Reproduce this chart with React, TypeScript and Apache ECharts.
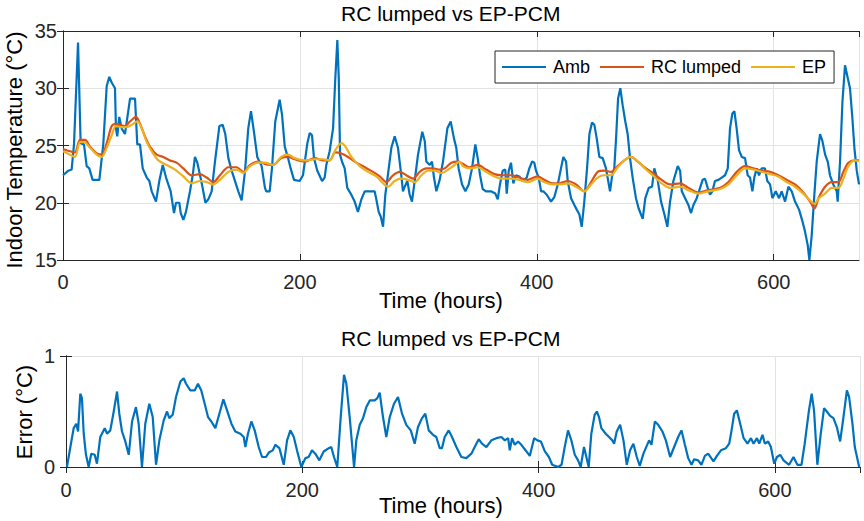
import React, { useEffect, useRef } from "react";
import * as echarts from "echarts";

// [hour, °C] vertices of each trace
const ambient: number[][] = [
  [0, 22.4], [4.5, 22.8], [7.3, 22.9], [9.3, 25.1], [12.7, 34.0], [14.9, 25.2], [17.7, 25.1], [20, 23.2],
  [22.2, 23.0], [25, 22.0], [30.7, 22.0], [34, 25.1], [36.9, 30.2], [39.1, 31.0], [41.1, 30.5], [43.9, 30.0],
  [44.7, 26.5], [45.8, 25.8], [47.5, 27.5], [49.5, 26.5], [52.3, 26.0], [56.6, 29.1], [60.8, 29.1], [62.7, 25.1],
  [65, 25.1], [67.3, 23.0], [70.7, 22.2], [72.9, 21.9], [74.9, 21.0], [78.5, 20.1], [81.3, 21.9], [84.2, 23.3],
  [87, 22.2], [88.9, 21.6], [90.9, 21.0], [93.7, 19.1], [95.4, 20.0], [98.2, 20.0], [99.4, 19.1], [101.6, 18.5],
  [103.8, 19.2], [107.2, 21.0], [109.5, 22.4], [111.4, 24.0], [113.4, 23.5], [115.7, 22.4], [117.9, 21.3],
  [120.2, 20.0], [122.7, 20.3], [125.5, 21.0], [128.3, 23.6], [132, 26.7], [134.8, 26.8], [137, 26.0],
  [139.6, 23.9], [142.4, 22.8], [148, 21.0], [150.8, 20.2], [153.7, 22.8], [156.4, 26.5], [158.7, 28.0],
  [161.2, 26.2], [164, 24.0], [167.7, 23.2], [170.5, 21.3], [171.6, 21.0], [174.5, 21.0], [176.4, 23.0],
  [179.2, 27.1], [182.9, 29.0], [184.9, 27.7], [187.2, 24.9], [190, 23.9], [192.2, 23.0], [195, 22.0],
  [199.8, 21.9], [202.6, 22.4], [206.3, 25.2], [208.3, 26.1], [210.2, 25.9], [211.9, 23.9], [214.7, 22.8],
  [218.7, 21.9], [220.9, 22.2], [222.3, 23.3], [225.1, 24.5], [228, 26.5], [229.9, 30.9], [231.6, 34.2],
  [232.8, 30.9], [233.9, 24.2], [235.5, 23.6], [237.8, 23.0], [240, 21.3], [242.9, 20.8], [246.2, 20.1],
  [249, 19.2], [251.9, 20.3], [254.7, 21.0], [258.9, 21.0], [263.1, 21.0], [264.5, 20.3], [266.5, 19.2],
  [268.2, 18.8], [270.2, 17.9], [272.1, 20.7], [275, 23.0], [277.2, 24.8], [280, 25.8], [282.8, 24.8],
  [285.6, 22.4], [287, 21.0], [288.5, 21.4], [290.7, 21.9], [292.7, 20.7], [294.6, 20.1], [296.9, 21.9],
  [299.7, 24.2], [303.3, 26.2], [305.4, 25.4], [306.7, 23.6], [309.6, 23.3], [311.5, 23.6], [313.2, 22.2],
  [315.2, 21.0], [318, 22.0], [320.8, 23.6], [324.5, 26.5], [327.3, 27.1], [330.1, 25.6], [332, 24.8],
  [334, 23.0], [336.9, 21.6], [339.7, 21.0], [342.5, 21.6], [345.3, 23.0], [348.1, 25.1], [350.1, 23.9],
  [352.1, 22.4], [354.3, 21.2], [357.1, 21.0], [361.3, 21.0], [365, 20.8], [367, 20.3], [368.9, 21.6],
  [371.2, 22.8], [373.4, 22.9], [374.6, 20.8], [376.3, 22.8], [378.2, 23.5], [380.2, 21.7], [382.4, 22.4],
  [385.2, 22.3], [388.1, 21.9], [391.5, 22.2], [393.7, 23.0], [396, 23.6], [397.9, 23.5], [399.3, 22.8],
  [401.6, 22.2], [403.6, 21.0], [405.5, 21.0], [408.4, 20.7], [412, 20.1], [414.8, 20.5], [417.7, 21.6],
  [420.4, 23.0], [422.4, 24.0], [424.7, 23.6], [426.1, 21.9], [428.9, 20.4], [431.7, 19.8], [433.7, 19.4],
  [435.9, 19.0], [437.9, 17.9], [440.1, 20.1], [442.4, 23.0], [444.4, 26.0], [446.6, 27.0], [448.6, 26.8],
  [450.6, 25.6], [452.8, 24.0], [455.6, 23.9], [458.4, 23.0], [461.8, 21.0], [463.5, 22.3], [465.4, 23.0],
  [466.9, 25.6], [468.6, 29.1], [470.5, 30.0], [472.5, 28.5], [474.7, 27.1], [476.7, 26.0], [478.7, 23.9],
  [480.9, 22.2], [483.7, 20.4], [486, 19.5], [489.4, 18.6], [491.6, 20.4], [494.5, 21.3], [497.3, 21.4],
  [499.2, 23.0], [502, 22.0], [504.9, 20.1], [507.7, 19.0], [510.2, 17.9], [512.5, 20.1], [515.3, 21.9],
  [519, 23.2], [521, 22.8], [522.4, 21.0], [525.2, 20.4], [528, 19.8], [530.2, 19.1], [532.2, 19.8],
  [535, 20.4], [540, 22.0], [542, 22.1], [544.3, 21.3], [546.2, 20.7], [548.2, 21.0], [550.4, 21.9],
  [553.3, 22.0], [556.1, 22.2], [558.9, 22.4], [561.2, 23.0], [563.1, 26.5], [565.1, 27.8], [566.8, 28.0],
  [568.7, 26.5], [570.7, 24.6], [573, 24.0], [575.8, 23.9], [578, 22.4], [580, 22.2], [582, 21.0],
  [583.6, 22.2], [585.6, 23.0], [587.6, 22.4], [589.8, 23.0], [592.6, 23.0], [594.6, 21.9], [596.9, 21.6],
  [598.9, 20.4], [601.7, 21.0], [604.5, 20.4], [606.7, 21.0], [609.6, 20.1], [612.4, 21.4], [615.2, 21.0],
  [618, 20.1], [621.4, 19.4], [624.2, 18.4], [626.4, 17.5], [628.7, 16.3], [630.1, 15.0], [632.1, 17.2],
  [634.3, 20.7], [636.3, 23.6], [639.1, 26.0], [641.1, 25.4], [643.4, 24.2], [645.6, 23.6], [647.5, 22.4],
  [650.3, 21.6], [653.2, 21.0], [654, 20.1], [656, 23.6], [658, 28.8], [660.2, 32.0], [662.5, 30.9],
  [664.4, 30.0], [666.4, 27.4], [668.1, 24.8], [670.1, 22.8], [672, 21.6],
];

const rcLumped: number[][] = [
  [0, 24.7], [5.9, 24.5], [10.1, 24.4], [14.4, 25.5], [18.6, 25.5], [22.8, 24.9], [28.5, 24.3], [32.7, 24.2],
  [36.9, 25.2], [41.1, 26.7], [44.7, 26.9], [48.1, 26.8], [52.3, 26.7], [56.6, 27.1], [61.6, 27.5], [65, 26.9],
  [69.2, 25.8], [73.4, 24.9], [79.1, 24.2], [84.7, 24.0], [90.3, 23.7], [95.9, 23.5], [101.6, 23.0],
  [108.6, 22.4], [115.7, 22.5], [121.3, 22.2], [126.9, 21.8], [132.5, 22.4], [139.6, 23.1], [146.6, 23.1],
  [152.2, 22.7], [157.9, 23.3], [164.9, 23.6], [170.3, 23.4], [177.3, 23.3], [184.3, 23.9], [190, 24.0],
  [195.6, 23.8], [204.1, 23.6], [212.5, 23.9], [219.5, 23.7], [225.1, 23.7], [229.9, 24.4], [235, 24.3],
  [240.6, 24.0], [247.7, 23.5], [254.7, 23.1], [261.7, 22.7], [267.4, 22.3], [273, 21.8], [278.6, 22.4],
  [284.3, 22.7], [289.8, 22.4], [295.5, 22.1], [301.1, 22.7], [306.7, 23.0], [312.4, 23.0], [318, 22.9],
  [322.2, 23.0], [327.8, 23.5], [333.5, 23.6], [337.5, 23.4], [343.1, 23.1], [350.1, 23.3], [357.1, 22.9],
  [364.2, 22.5], [371.2, 22.4], [378.2, 22.4], [385.2, 22.2], [392.3, 22.0], [400.7, 22.3], [406.3, 22.0],
  [413.4, 21.7], [419, 21.7], [426.1, 21.9], [433.1, 21.6], [440.1, 21.0], [445.8, 21.8], [451.4, 22.7],
  [457, 22.8], [462.7, 22.7], [468.3, 23.2], [473.9, 23.7], [479.5, 24.0], [485.2, 23.6], [492.2, 23.0],
  [497.9, 22.6], [505.4, 22.0], [512.5, 21.6], [521, 21.7], [528, 21.3], [536.5, 20.9], [544.9, 21.1],
  [554.8, 21.3], [561.8, 21.8], [568.8, 22.7], [575.8, 23.2], [582.8, 23.0], [589.8, 22.8], [596.9, 22.7],
  [603.9, 22.4], [611, 22.0], [618, 21.6], [625, 20.9], [630.7, 20.1], [634.3, 19.5], [638.2, 20.5],
  [643.4, 21.4], [649, 21.8], [654.6, 21.8], [658.8, 22.7], [663, 23.5], [668.6, 23.7], [672, 23.7],
];

const epPcm: number[][] = [
  [0, 24.5], [5.9, 24.2], [10.1, 24.0], [14.4, 25.3], [17.7, 25.3], [22.8, 24.8], [28.5, 24.2], [32.7, 24.0],
  [36.9, 24.8], [41.1, 25.9], [44.7, 26.7], [49.5, 26.6], [53.8, 26.6], [58, 26.8], [62.7, 27.1], [66.4, 26.5],
  [70.7, 25.3], [74.9, 24.5], [80.5, 23.7], [87.5, 23.3], [94.6, 22.9], [101.6, 22.3], [108.6, 21.7],
  [115.7, 21.9], [121.3, 21.8], [126.9, 21.6], [132.5, 22.0], [139.6, 22.7], [146.6, 22.9], [152.2, 22.6],
  [157.9, 23.2], [164.9, 23.5], [170.3, 23.5], [177.3, 23.3], [184.3, 24.0], [190, 24.2], [195.6, 23.9],
  [204.1, 23.7], [212.5, 23.8], [219.5, 23.8], [225.1, 23.7], [229.9, 24.6], [235, 25.2], [238.4, 24.9],
  [243.5, 24.0], [250.5, 23.2], [257.6, 22.7], [264.6, 22.3], [270.2, 21.7], [274.4, 21.4], [280, 21.9],
  [285.6, 22.1], [291.3, 22.0], [296.9, 21.8], [302.5, 22.4], [308.2, 22.8], [313.8, 22.8], [319.4, 22.6],
  [322.2, 22.7], [329.3, 23.2], [334.9, 23.6], [337.5, 23.2], [343.1, 23.0], [350.1, 23.1], [357.1, 22.7],
  [364.2, 22.3], [371.2, 22.1], [378.2, 22.1], [385.2, 22.0], [392.3, 21.8], [400.7, 22.1], [406.3, 21.8],
  [413.4, 21.6], [419, 21.6], [426.1, 21.7], [433.1, 21.4], [440.1, 21.0], [445.8, 21.6], [451.4, 22.2],
  [457, 22.4], [462.7, 22.4], [468.3, 23.1], [473.9, 23.7], [479.5, 24.0], [485.2, 23.6], [492.2, 22.9],
  [497.9, 22.4], [505.4, 21.7], [512.5, 21.3], [521, 21.4], [528, 21.1], [536.5, 20.8], [544.9, 21.0],
  [554.8, 21.2], [561.8, 21.6], [568.8, 22.4], [575.8, 23.0], [582.8, 22.9], [589.8, 22.7], [596.9, 22.5],
  [603.9, 22.3], [611, 21.8], [618, 21.4], [625, 20.8], [630.7, 20.2], [634.3, 19.9], [638.2, 20.4],
  [643.4, 20.8], [649, 21.3], [654.6, 21.3], [658.8, 22.1], [663, 23.2], [668.6, 23.7], [672, 23.6],
];

const absError: number[][] = [
  [0.8, 0.0], [3.7, 0.18], [6.5, 0.35], [8.7, 0.39], [10.2, 0.32], [12.1, 0.66], [13.5, 0.62], [15, 0.30],
  [16.9, 0.11], [19.2, 0.0], [21.4, 0.12], [24.3, 0.11], [26.2, 0.03], [29, 0.27], [32.8, 0.35], [34.7, 0.30],
  [37.5, 0.33], [40.4, 0.50], [43.2, 0.68], [45.1, 0.48], [47.4, 0.32], [50.2, 0.23], [53.1, 0.11],
  [55.9, 0.41], [59.2, 0.54], [61.5, 0.39], [64.3, 0.0], [67.1, 0.39], [70.5, 0.57], [73.4, 0.45],
  [76.2, 0.02], [79, 0.24], [82.7, 0.42], [85.5, 0.50], [87.4, 0.44], [90.3, 0.47], [93.1, 0.63],
  [96.8, 0.77], [99.6, 0.80], [101.6, 0.75], [105.2, 0.69], [108.9, 0.69], [111.7, 0.75], [114.5, 0.69],
  [117.4, 0.57], [120.2, 0.45], [123, 0.41], [126.4, 0.35], [129.8, 0.48], [133.2, 0.61], [136.3, 0.51],
  [140, 0.39], [143.3, 0.32], [147.6, 0.30], [150.4, 0.27], [151.8, 0.18], [154, 0.30], [156.9, 0.41],
  [159.7, 0.33], [163.1, 0.18], [165.9, 0.09], [169.3, 0.09], [171.6, 0.13], [175, 0.15], [177.2, 0.20],
  [180.6, 0.17], [184.3, 0.02], [187.1, 0.24], [189.9, 0.33], [192.8, 0.27], [195.5, 0.15], [199.2, 0.0],
  [202.6, 0.08], [205.4, 0.09], [208.2, 0.15], [211, 0.12], [214.4, 0.06], [218.1, 0.14], [222.4, 0.17],
  [224.5, 0.18], [226.8, 0.09], [229.6, 0.0], [232.5, 0.45], [235.3, 0.83], [237.3, 0.75], [240.1, 0.45],
  [243.8, 0.0], [245.7, 0.24], [248.6, 0.38], [251.4, 0.44], [254.2, 0.54], [257.1, 0.60], [261.3, 0.60],
  [263.5, 0.62], [265.5, 0.67], [268.3, 0.45], [271.1, 0.27], [274, 0.45], [277.6, 0.57], [281, 0.63],
  [284.4, 0.48], [288, 0.38], [291.8, 0.33], [295.1, 0.21], [297.9, 0.36], [301.3, 0.44], [304.1, 0.48],
  [307, 0.33], [310.6, 0.29], [313.4, 0.27], [316.3, 0.17], [318.2, 0.17], [320.5, 0.27], [323.9, 0.33],
  [326.7, 0.27], [330.4, 0.18], [334.6, 0.09], [338.8, 0.08], [343.1, 0.12], [345.9, 0.18], [349.3, 0.25],
  [352.1, 0.21], [355.8, 0.18], [360, 0.24], [364.3, 0.26], [368.5, 0.27], [371.4, 0.24], [374.2, 0.26],
  [375.6, 0.15], [377.5, 0.26], [379.8, 0.20], [382.6, 0.23], [385.4, 0.20], [389.7, 0.14], [392.5, 0.10],
  [396.2, 0.26], [399, 0.24], [401.9, 0.23], [405.3, 0.14], [408.7, 0.09], [411.5, 0.02], [416.5, 0.0],
  [419.4, 0.02], [422.1, 0.18], [424.9, 0.33], [427.7, 0.24], [430.6, 0.11], [433.4, 0.06], [435.6, 0.0],
  [438.4, 0.18], [442.4, 0.0], [444.6, 0.30], [447.4, 0.47], [449.3, 0.50], [451.1, 0.45], [453.1, 0.35],
  [456.8, 0.30], [459.6, 0.27], [462.4, 0.24], [463.9, 0.21], [466.1, 0.32], [469, 0.38], [471.8, 0.24],
  [474.6, 0.02], [477.4, 0.15], [480.2, 0.21], [483.1, 0.09], [485.6, 0.01], [488.7, 0.12], [493.5, 0.24],
  [495.5, 0.20], [498.4, 0.41], [501.2, 0.38], [504.8, 0.32], [507.7, 0.24], [511.3, 0.09], [514.7, 0.18],
  [518.1, 0.27], [520.9, 0.33], [523.8, 0.20], [526.6, 0.08], [529.4, 0.02], [531.6, 0.07], [535, 0.06],
  [537.8, 0.02], [540.7, 0.10], [543.5, 0.12], [548, 0.05], [550.9, 0.10], [554.3, 0.15], [558.5, 0.17],
  [561.3, 0.21], [563.3, 0.33], [565.5, 0.48], [567.8, 0.51], [570.6, 0.39], [573.5, 0.26], [576.8, 0.21],
  [579.7, 0.26], [581.9, 0.21], [584.8, 0.26], [586.7, 0.21], [589.5, 0.29], [591.5, 0.21], [594.3, 0.23],
  [596.6, 0.18], [599.4, 0.03], [601.7, 0.09], [604.5, 0.11], [607.3, 0.06], [612, 0.02], [615.7, 0.09],
  [619, 0.02], [622.5, 0.02], [625.2, 0.21], [628.8, 0.51], [631.1, 0.66], [633.1, 0.51], [635.9, 0.02],
  [638.8, 0.30], [641.6, 0.53], [643.9, 0.50], [646.7, 0.46], [649.5, 0.44], [652.4, 0.36], [655.2, 0.23],
  [658, 0.45], [660.9, 0.69], [662.8, 0.63], [665.6, 0.39], [667.6, 0.18], [671.3, 0.0],
];

const legendNames = ["Amb", "RC lumped", "EP"];
const traceColors = ["#0072BD", "#D95319", "#EDB120"];
const chartTitle = "RC lumped vs EP-PCM";
const timeLabel = "Time (hours)";
const tempLabel = "Indoor Temperature (°C)";
const errLabel = "Error (°C)";

const FONT = "'Liberation Sans', Arial, Helvetica, sans-serif";
const INK = "#262626";
const GRIDC = "#e3e3e3";
const LINE_W = 2.2;

function boxAxes(gridIndex: number, xMax: number, yMin: number, yMax: number, yInt: number, xLabelMargin: number, yLabelMargin: number) {
  const tick = { show: true, inside: true, length: 6, lineStyle: { color: INK, width: 1 } };
  const line = { show: true, lineStyle: { color: INK, width: 1 } };
  const label = { color: INK, fontSize: 20, fontFamily: FONT };
  const xs = [
    {
      type: "value", gridIndex, min: 0, max: xMax, interval: 200, position: "bottom",
      axisLine: line, axisTick: tick,
      axisLabel: { ...label, margin: xLabelMargin, showMaxLabel: false },
      splitLine: { show: true, lineStyle: { color: GRIDC, width: 1 } },
    },
    {
      type: "value", gridIndex, min: 0, max: xMax, interval: 200, position: "top",
      axisLine: line, axisTick: tick, axisLabel: { show: false }, splitLine: { show: false },
    },
  ];
  const ys = [
    {
      type: "value", gridIndex, min: yMin, max: yMax, interval: yInt, position: "left",
      axisLine: line, axisTick: tick,
      axisLabel: { ...label, margin: yLabelMargin },
      splitLine: { show: true, lineStyle: { color: GRIDC, width: 1 } },
    },
    {
      type: "value", gridIndex, min: yMin, max: yMax, interval: yInt, position: "right",
      axisLine: line, axisTick: tick, axisLabel: { show: false }, splitLine: { show: false },
    },
  ];
  return { xs, ys };
}

export default function App() {
  const ref = useRef<HTMLDivElement>(null);

  useEffect(() => {
    if (!ref.current) return;
    const chart = echarts.init(ref.current, null, { renderer: "svg" });
    const top = boxAxes(0, 672, 15, 35, 5, 12, 6);
    const bottom = boxAxes(1, 672, 0, 1, 1, 13, 11);

    const textStyle = (size: number) => ({ fill: "#000", fontSize: size, fontFamily: FONT });

    chart.setOption({
      animation: false,
      backgroundColor: "#fff",
      textStyle: { fontFamily: FONT },
      grid: [
        { left: 63, right: 5, top: 31, height: 229 },
        { left: 66, right: 4, top: 356, height: 111 },
      ],
      xAxis: [...top.xs, ...bottom.xs],
      yAxis: [...top.ys, ...bottom.ys],
      legend: {
        data: legendNames,
        left: 495,
        top: 51,
        orient: "horizontal",
        icon: "rect",
        itemWidth: 44,
        itemHeight: 2,
        itemGap: 10,
        padding: [7, 8, 7, 7],
        borderColor: INK,
        borderWidth: 1,
        borderRadius: 0,
        backgroundColor: "#fff",
        textStyle: { color: "#000", fontSize: 18, fontFamily: FONT, padding: [0, 0, 0, 2] },
      },
      graphic: [
        { type: "text", left: 341, top: 3, style: { text: chartTitle, ...textStyle(21) }, z: 10 },
        { type: "text", left: 341, top: 328, style: { text: chartTitle, ...textStyle(21) }, z: 10 },
        { type: "text", left: 379, top: 289, style: { text: timeLabel, ...textStyle(22) }, z: 10 },
        { type: "text", left: 379, top: 494, style: { text: timeLabel, ...textStyle(22) }, z: 10 },
        {
          type: "text", x: 14, y: 150, rotation: Math.PI / 2,
          style: { text: tempLabel, ...textStyle(22), textAlign: "center", textVerticalAlign: "middle" }, z: 10,
        },
        {
          type: "text", x: 24, y: 412, rotation: Math.PI / 2,
          style: { text: errLabel, ...textStyle(22), textAlign: "center", textVerticalAlign: "middle" }, z: 10,
        },
      ],
      series: [
        {
          name: legendNames[0], type: "line", xAxisIndex: 0, yAxisIndex: 0, data: ambient,
          symbol: "none", lineStyle: { color: traceColors[0], width: LINE_W }, itemStyle: { color: traceColors[0] }, z: 2,
        },
        {
          name: legendNames[1], type: "line", xAxisIndex: 0, yAxisIndex: 0, data: rcLumped, smooth: 0.3,
          symbol: "none", lineStyle: { color: traceColors[1], width: LINE_W }, itemStyle: { color: traceColors[1] }, z: 3,
        },
        {
          name: legendNames[2], type: "line", xAxisIndex: 0, yAxisIndex: 0, data: epPcm, smooth: 0.3,
          symbol: "none", lineStyle: { color: traceColors[2], width: LINE_W }, itemStyle: { color: traceColors[2] }, z: 4,
        },
        {
          name: "Error", type: "line", xAxisIndex: 2, yAxisIndex: 2, data: absError,
          symbol: "none", lineStyle: { color: traceColors[0], width: LINE_W }, itemStyle: { color: traceColors[0] },
        },
      ],
    });
    return () => chart.dispose();
  }, []);

  return (
    <div
      ref={ref}
      style={{ position: "fixed", left: 0, top: 0, width: 864, height: 521, background: "#fff" }}
    />
  );
}
